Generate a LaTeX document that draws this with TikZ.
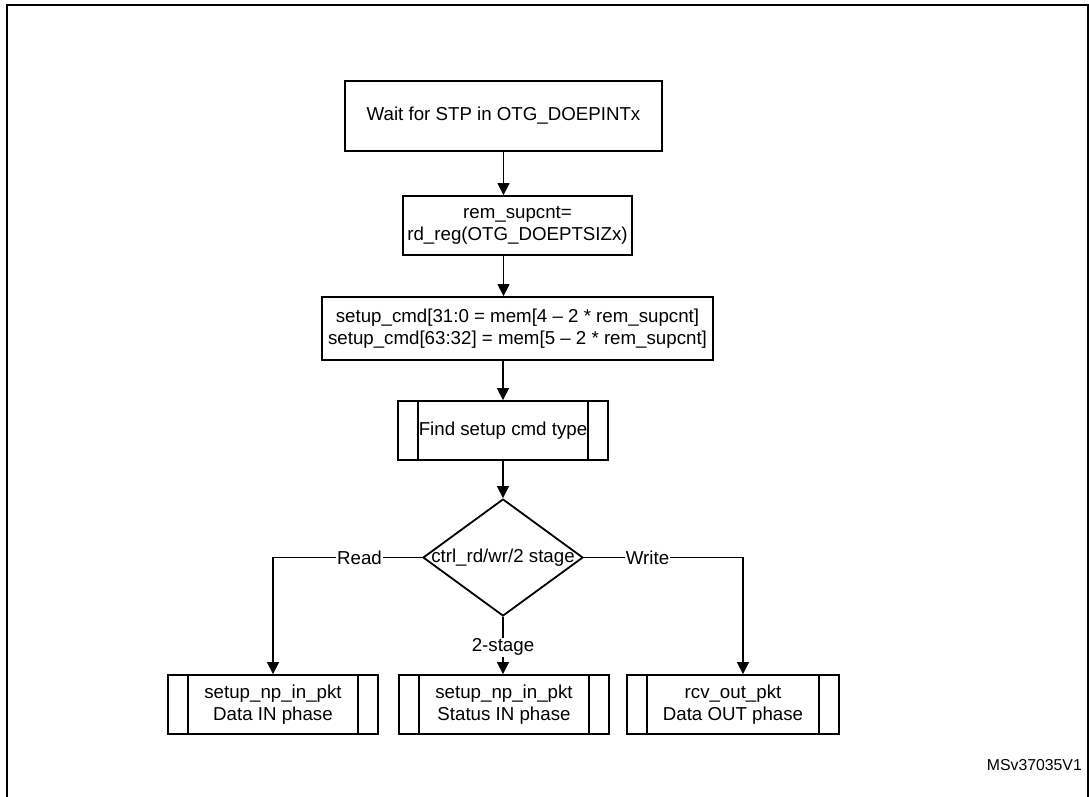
\documentclass[tikz,border=0pt]{standalone}
\usepackage{fontspec}
\setmainfont{Liberation Sans}
\usetikzlibrary{shapes.geometric,arrows.meta,calc}
\newcommand\mainfs{\fontsize{18.7}{22}\selectfont}
\newcommand\labfs{\fontsize{15.8}{18}\selectfont}
\begin{document}
\begin{tikzpicture}[x=1pt,y=-1pt,
  box/.style={draw, line width=1.8pt, inner sep=0pt, align=center, font=\mainfs},
  proc/.style={box, minimum width=210pt, minimum height=59pt,
    path picture={
      \draw[line width=1.8pt] ([xshift=20pt]path picture bounding box.north west) -- ([xshift=20pt]path picture bounding box.south west);
      \draw[line width=1.8pt] ([xshift=-20pt]path picture bounding box.north east) -- ([xshift=-20pt]path picture bounding box.south east);}},
  arr/.style={draw, line width=1.3pt, -{Triangle[length=12pt,width=12pt]}},
  lbl/.style={fill=white, inner sep=1pt, font=\mainfs}]
\useasboundingbox (0,0) rectangle (1089,796);
\draw[line width=2pt] (7,805) -- (7,5) -- (1088,5) -- (1088,805);

\node[box, minimum width=317pt, minimum height=70pt] (b1) at (503.5,116) {Wait for STP in OTG\_DOEPINTx};
\node[box, minimum width=229pt, minimum height=59pt] (b2) at (517.5,225.5) {rem\_supcnt=\\rd\_reg(OTG\_DOEPTSIZx)};
\node[box, minimum width=391pt, minimum height=63pt] (b3) at (517.5,328.5) {setup\_cmd[31:0 = mem[4 – 2 * rem\_supcnt]\\setup\_cmd[63:32] = mem[5 – 2 * rem\_supcnt]};
\node[proc] (b4) at (503,430.5) {Find setup cmd type};
\node[draw, diamond, line width=1.8pt, minimum width=160pt, minimum height=117pt, inner sep=0pt, font=\mainfs] (d) at (503,557.5) {\makebox[0pt]{ctrl\_rd/wr/2 stage}};
\node[proc] (l) at (273,704.5) {setup\_np\_in\_pkt\\Data IN phase};
\node[proc] (m) at (504,704.5) {setup\_np\_in\_pkt\\Status IN phase};
\node[proc, minimum width=212pt] (r) at (733,704.5) {rcv\_out\_pkt\\Data OUT phase};
\node[font=\labfs, anchor=east, inner sep=0pt] (id) at (1082,765) {MSv37035V1};

\coordinate (rin) at ([xshift=10pt]r.north);
\draw[arr] (b1.south) -- (b1.south |- b2.north);
\draw[arr] (b2.south -| b1.south) -- (b1.south |- b3.north);
\draw[arr] (b3.south -| b4.north) -- (b4.north);
\draw[arr] (b4.south) -- (d.north);
\draw[arr] (d.west) -- node[lbl, pos=0.42] {Read} (d.west -| l.north) -- (l.north);
\draw[arr] (d.east) -- node[lbl, pos=0.4] {Write} (d.east -| rin) -- (rin);
\draw[arr] (d.south) -- node[lbl, pos=0.53] {2-stage} (d.south |- m.north);
\end{tikzpicture}
\end{document}
